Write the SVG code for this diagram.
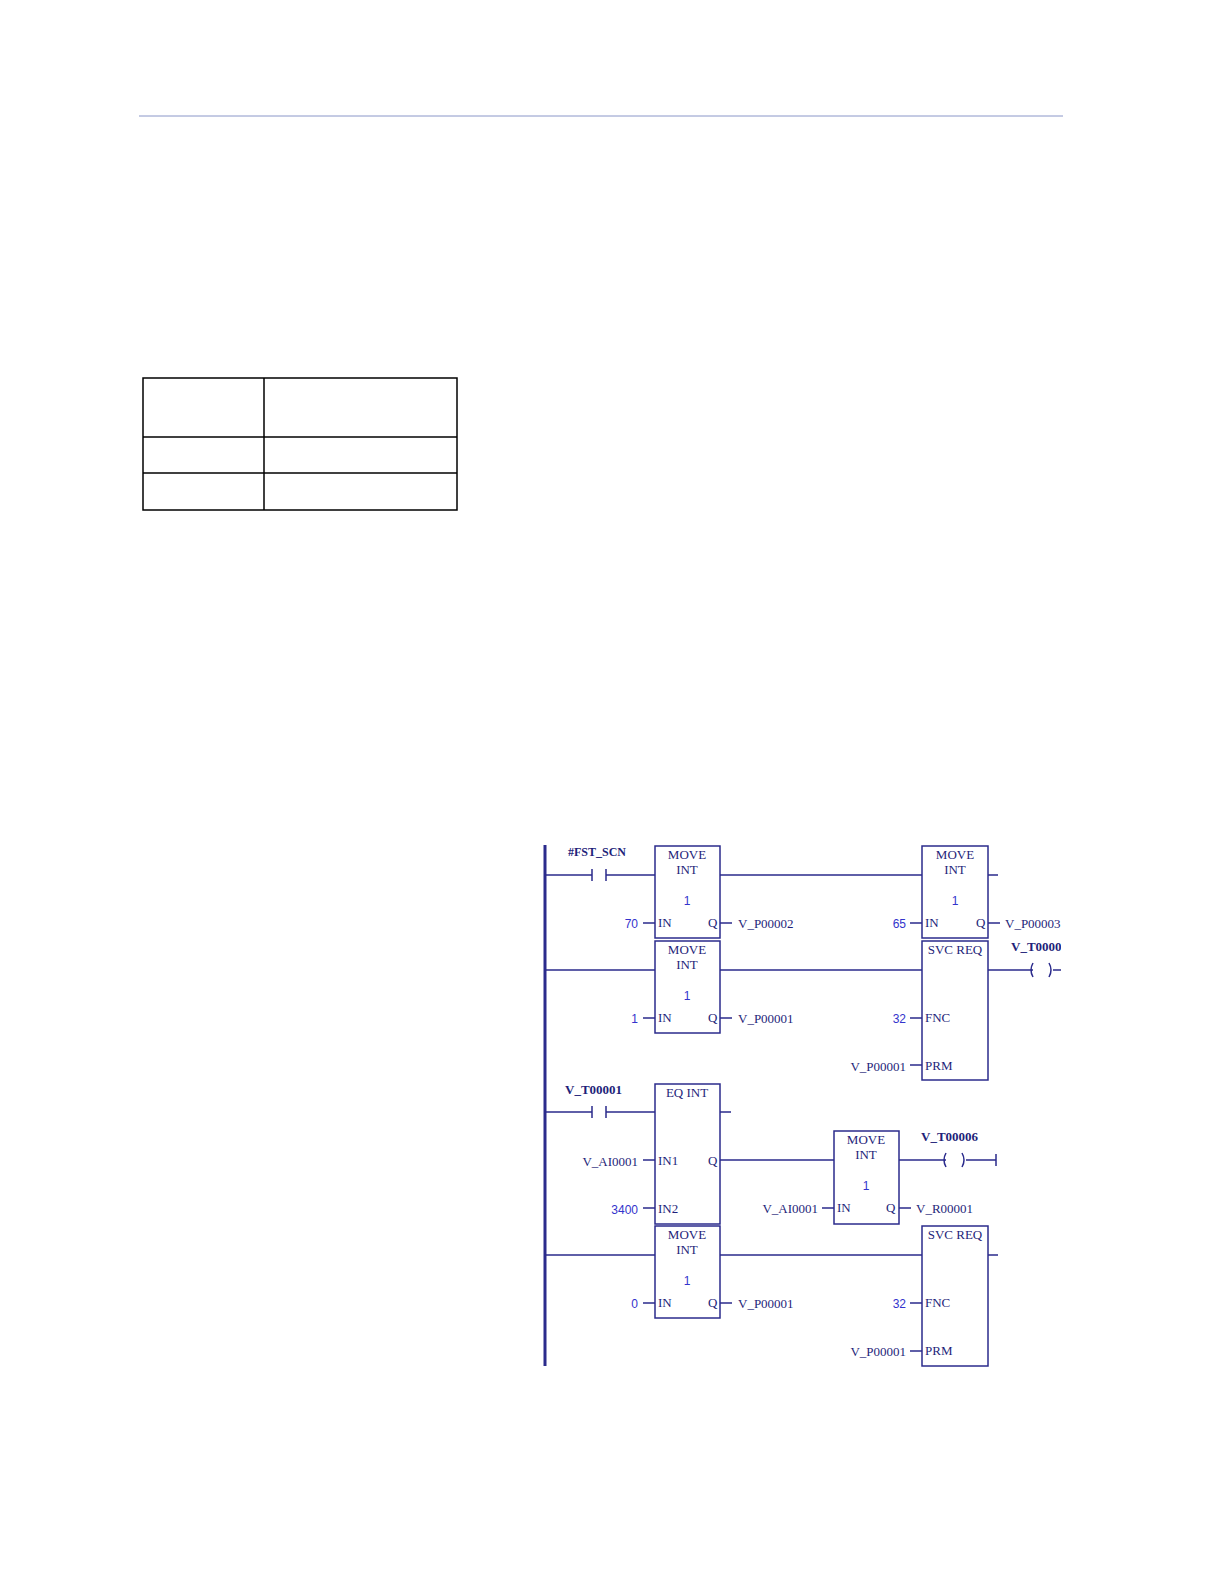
<svg xmlns="http://www.w3.org/2000/svg" width="1224" height="1584" viewBox="0 0 1224 1584">
<style>
.b{fill:#fff;stroke:#2b2b8c;stroke-width:1.5}
.w{stroke:#2b2b8c;stroke-width:1.5;fill:none}
.t{font-family:"Liberation Serif",serif;font-size:13px;fill:#1f1f7a}
.n{font-family:"Liberation Sans",sans-serif;font-size:12px;fill:#3333cc}
.bd{font-family:"Liberation Serif",serif;font-size:13px;font-weight:bold;fill:#1f1f7a}
.m{text-anchor:middle}.e{text-anchor:end}
</style>
<defs><clipPath id="c"><rect x="0" y="0" width="1061" height="1584"/></clipPath></defs>
<rect width="1224" height="1584" fill="#fff"/>
<line x1="139" y1="116" x2="1063" y2="116" stroke="#8a96c8" stroke-width="1"/>
<g id="table" fill="none" stroke="#000" stroke-width="1.5">
<rect x="143" y="378" width="314" height="132"/>
<line x1="264" y1="378" x2="264" y2="510"/>
<line x1="143" y1="437" x2="457" y2="437"/>
<line x1="143" y1="473" x2="457" y2="473"/>
</g>
<g clip-path="url(#c)">
<g id="connectors" class="w">
<line x1="545" y1="845" x2="545" y2="1366" stroke-width="3"/>
<path d="M545 875H592M592 869v12M606 869v12M606 875H655M720 875H922M988 875H998"/>
<path d="M545 970H655M720 970H922M988 970H1033M1033 963q-4 7 0 14M1049 963q4 7 0 14M1053 970H1061"/>
<path d="M545 1112H592M592 1106v12M606 1106v12M606 1112H655M720 1112H731"/>
<path d="M720 1160H834M899 1160H946M946 1153q-4 7 0 14M962 1153q4 7 0 14M966 1160H996M996 1154v12"/>
<path d="M545 1255H655M720 1255H922M988 1255H998"/>
<path d="M643 923H655M720 923H732M910 923H922M988 923H1000M643 1018H655M720 1018H732M910 1018H922M910 1065H922"/>
<path d="M643 1160H655M643 1208H655M822 1208H834M899 1208H911M643 1303H655M720 1303H732M910 1303H922M910 1351H922"/>
</g>
<text class="bd" x="568" y="856" style="font-size:12px">#FST_SCN</text>
<g id="move1"><rect class="b" x="655" y="846" width="65" height="92"/><text class="t m" x="687" y="859">MOVE</text><text class="t m" x="687" y="874">INT</text><text class="n m" x="687" y="905">1</text><text class="t" x="658" y="927">IN</text><text class="t" x="708" y="927">Q</text><text class="n e" x="638" y="928">70</text><text class="t" x="738" y="928">V_P00002</text></g>
<g id="move2"><rect class="b" x="922" y="846" width="66" height="92"/><text class="t m" x="955" y="859">MOVE</text><text class="t m" x="955" y="874">INT</text><text class="n m" x="955" y="905">1</text><text class="t" x="925" y="927">IN</text><text class="t" x="976" y="927">Q</text><text class="n e" x="906" y="928">65</text><text class="t" x="1005" y="928">V_P00003</text></g>
<g id="move3"><rect class="b" x="655" y="941" width="65" height="92"/><text class="t m" x="687" y="954">MOVE</text><text class="t m" x="687" y="969">INT</text><text class="n m" x="687" y="1000">1</text><text class="t" x="658" y="1022">IN</text><text class="t" x="708" y="1022">Q</text><text class="n e" x="638" y="1023">1</text><text class="t" x="738" y="1023">V_P00001</text></g>
<g id="svc1"><rect class="b" x="922" y="941" width="66" height="139"/><text class="t m" x="955" y="954">SVC REQ</text><text class="t" x="925" y="1022">FNC</text><text class="t" x="925" y="1070">PRM</text><text class="n e" x="906" y="1023">32</text><text class="t e" x="906" y="1071">V_P00001</text><text class="bd" x="1011" y="951">V_T00002</text></g>
<text class="bd" x="565" y="1094">V_T00001</text>
<g id="eq"><rect class="b" x="655" y="1084" width="65" height="140"/><text class="t m" x="687" y="1097">EQ INT</text><text class="t" x="658" y="1165">IN1</text><text class="t" x="708" y="1165">Q</text><text class="t" x="658" y="1213">IN2</text><text class="t e" x="638" y="1166">V_AI0001</text><text class="n e" x="638" y="1214">3400</text></g>
<g id="move4"><rect class="b" x="834" y="1131" width="65" height="93"/><text class="t m" x="866" y="1144">MOVE</text><text class="t m" x="866" y="1159">INT</text><text class="n m" x="866" y="1190">1</text><text class="t" x="837" y="1212">IN</text><text class="t" x="886" y="1212">Q</text><text class="t e" x="818" y="1213">V_AI0001</text><text class="t" x="916" y="1213">V_R00001</text><text class="bd" x="921" y="1141">V_T00006</text></g>
<g id="move5"><rect class="b" x="655" y="1226" width="65" height="92"/><text class="t m" x="687" y="1239">MOVE</text><text class="t m" x="687" y="1254">INT</text><text class="n m" x="687" y="1285">1</text><text class="t" x="658" y="1307">IN</text><text class="t" x="708" y="1307">Q</text><text class="n e" x="638" y="1308">0</text><text class="t" x="738" y="1308">V_P00001</text></g>
<g id="svc2"><rect class="b" x="922" y="1226" width="66" height="140"/><text class="t m" x="955" y="1239">SVC REQ</text><text class="t" x="925" y="1307">FNC</text><text class="t" x="925" y="1355">PRM</text><text class="n e" x="906" y="1308">32</text><text class="t e" x="906" y="1356">V_P00001</text></g>
</g>
</svg>
